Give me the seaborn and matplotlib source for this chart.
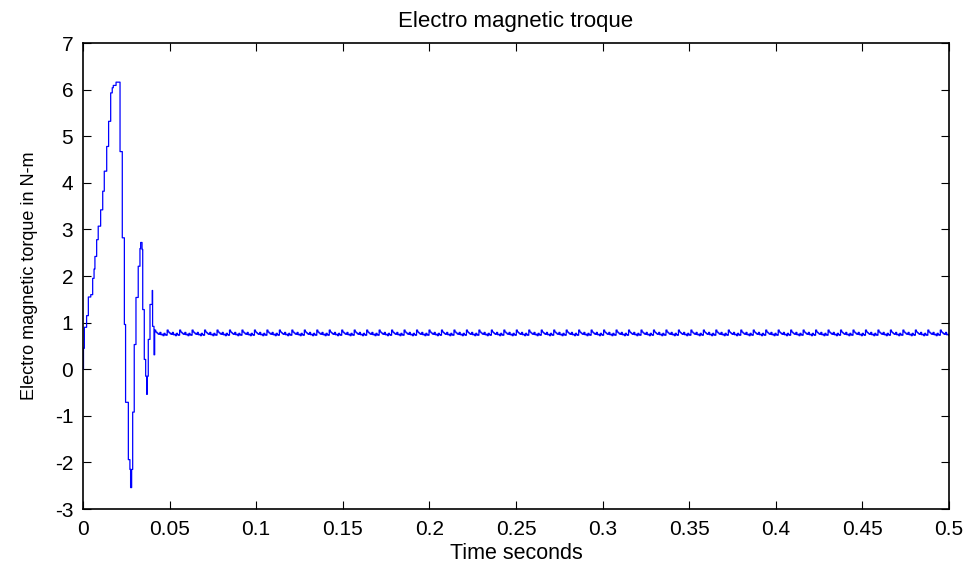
import numpy as np
import pandas as pd
import matplotlib
matplotlib.use("Agg")
import matplotlib.pyplot as plt
import seaborn as sns

# Start-up transient: step instants (s) and torque held from each instant (N-m)
transient_t = [0.0, 0.0003, 0.0008, 0.0021, 0.0031, 0.0045, 0.0056, 0.0064,
               0.0069, 0.0079, 0.0088, 0.0102, 0.0114, 0.0123, 0.0137, 0.0148,
               0.0160, 0.0169, 0.0175, 0.0191, 0.0214, 0.0227, 0.0239, 0.0246,
               0.0262, 0.0271, 0.0275, 0.0281, 0.0287, 0.0296, 0.0306, 0.0319,
               0.0329, 0.0333, 0.0341, 0.0345, 0.0354, 0.0362, 0.0368, 0.0371,
               0.0377, 0.0387, 0.0400, 0.0402, 0.0410]
transient_T = [0.0, 0.45, 0.9, 1.15, 1.55, 1.6, 1.95, 2.15,
               2.42, 2.78, 3.07, 3.42, 3.82, 4.25, 4.78, 5.32,
               5.93, 6.04, 6.09, 6.16, 4.67, 2.82, 0.96, -0.71,
               -1.94, -2.15, -2.54, -2.15, -0.92, 0.53, 1.54, 2.21,
               2.59, 2.72, 2.57, 1.28, 0.21, -0.15, -0.54, -0.15,
               0.64, 1.39, 1.69, 0.92, 0.31]

# Steady-state switching ripple: one period sampled every ripple_step seconds
steady_start = 0.0414
steady_end = 0.5
ripple_step = 0.0006
ripple_period = [0.84, 0.80, 0.78, 0.76, 0.75, 0.79,
                 0.74, 0.75, 0.72, 0.77, 0.74, 0.73]

x_ticks = [0, 0.05, 0.1, 0.15, 0.2, 0.25, 0.3, 0.35, 0.4, 0.45, 0.5]
x_tick_labels = ["0", "0.05", "0.1", "0.15", "0.2", "0.25", "0.3", "0.35",
                 "0.4", "0.45", "0.5"]
y_ticks = [-3, -2, -1, 0, 1, 2, 3, 4, 5, 6, 7]

# Build the full time series
n_steady = int(round((steady_end - steady_start) / ripple_step)) + 1
steady_t = steady_start + ripple_step * np.arange(n_steady)
reps = n_steady // len(ripple_period) + 1
steady_T = np.tile(ripple_period, reps)[:n_steady]
df = pd.DataFrame({
    "t": np.concatenate([transient_t, steady_t]),
    "Te": np.concatenate([transient_T, steady_T]),
})

sns.set_style("ticks")
plt.rcParams["font.family"] = ["Liberation Sans", "DejaVu Sans"]
plt.rcParams["axes.unicode_minus"] = False
plt.rcParams["text.color"] = "black"
plt.rcParams["axes.labelcolor"] = "black"

fig = plt.figure(figsize=(9.75, 5.69), dpi=100)
ax = fig.add_axes([0.0851, 0.1054, 0.8882, 0.819])

sns.lineplot(data=df, x="t", y="Te", ax=ax, color="#0000ff", linewidth=0.9,
             estimator=None, sort=False, drawstyle="steps-post")

ax.set_xlim(0, 0.5)
ax.set_ylim(-3, 7)
ax.set_xticks(x_ticks)
ax.set_xticklabels(x_tick_labels)
ax.set_yticks(y_ticks)
ax.tick_params(direction="in", length=6, width=0.8, top=True, right=True,
               labelsize=15, colors="black")
ax.tick_params(axis="x", pad=8)
ax.tick_params(axis="y", pad=7)
for s in ax.spines.values():
    s.set_linewidth(1.2)
    s.set_color("black")

ax.set_title("Electro magnetic troque", fontsize=16, pad=11.5, color="black")
ax.set_xlabel("Time seconds", fontsize=15.5, labelpad=3)
ax.set_ylabel("Electro magnetic torque in N-m", fontsize=13, labelpad=12)

fig.savefig("out.png", dpi=100)
